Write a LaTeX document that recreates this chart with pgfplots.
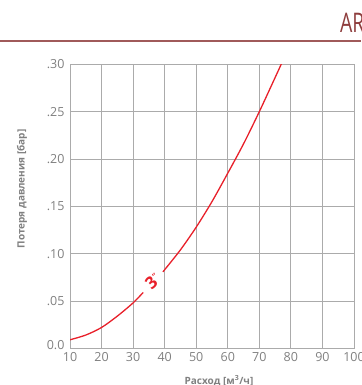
\documentclass[border=0pt]{standalone}
\usepackage{pgfplots}
\pgfplotsset{compat=1.18}
\usepackage{fontspec}
\setmainfont{Open Sans}
\definecolor{tickgray}{HTML}{808080}
\definecolor{gridgray}{HTML}{ABABAB}
\definecolor{curvered}{HTML}{E8202A}
\definecolor{darkred}{HTML}{8E3D3D}
\definecolor{linered}{HTML}{A05A5A}
\begin{document}
\begin{tikzpicture}[x=1pt,y=1pt]
\begin{axis}[
  at={(70pt,36.7pt)}, anchor=south west,
  scale only axis, width=284pt, height=284pt,
  xmin=10, xmax=100, ymin=0, ymax=0.30,
  xtick={10,20,...,100},
  ytick={0,0.05,0.10,0.15,0.20,0.25,0.30},
  yticklabels={\raisebox{6pt}{0.0},.05,.10,.15,.20,.25,.30},
  /pgf/number format/assume math mode=true,
  grid=major,
  major grid style={gridgray, line width=0.9pt},
  axis line style={draw=gridgray, line width=0.9pt},
  major tick length=0pt,
  tick label style={font=\fontsize{12.5}{14}\selectfont, text=tickgray},
  yticklabel style={xshift=-2pt},
  xticklabel style={yshift=-1pt},
  clip=true,
]
\addplot[curvered, line width=1.3pt, smooth] coordinates {
  (10,0.009) (15,0.014) (20,0.022) (25,0.034) (30,0.048) (33.2,0.059)
};
\addplot[curvered, line width=1.3pt, smooth] coordinates {
  (39.5,0.081) (40,0.083) (45,0.104) (50,0.128) (55,0.155) (60,0.185)
  (65,0.216) (70,0.250) (75,0.286) (77.2,0.302)
};
\node[text=curvered, rotate=43, inner sep=0pt, font=\bfseries\fontsize{17}{18}\selectfont]
  at (axis cs:36.2,0.071) {3\raisebox{5pt}{\fontsize{8}{8}\selectfont"}};
\end{axis}
\draw[linered, line width=1.3pt] (0pt,344pt) -- (361pt,344pt);
\node[anchor=base west, text=darkred, inner sep=0pt, xscale=0.72,
  font=\fontsize{27}{30}\selectfont] at (340pt,352pt) {AR};
\node[anchor=base, text=tickgray, inner sep=0pt,
  font=\bfseries\fontsize{10}{12}\selectfont] at (219pt,1pt)
  {Расход [м\textsuperscript{3}/ч]};
\node[anchor=center, rotate=90, text=tickgray, inner sep=0pt,
  font=\bfseries\fontsize{10}{12}\selectfont] at (22pt,196pt)
  {Потеря давления [бар]};
\pgfresetboundingbox
\path (0pt,0pt) rectangle (361pt,385pt);
\end{tikzpicture}
\end{document}
